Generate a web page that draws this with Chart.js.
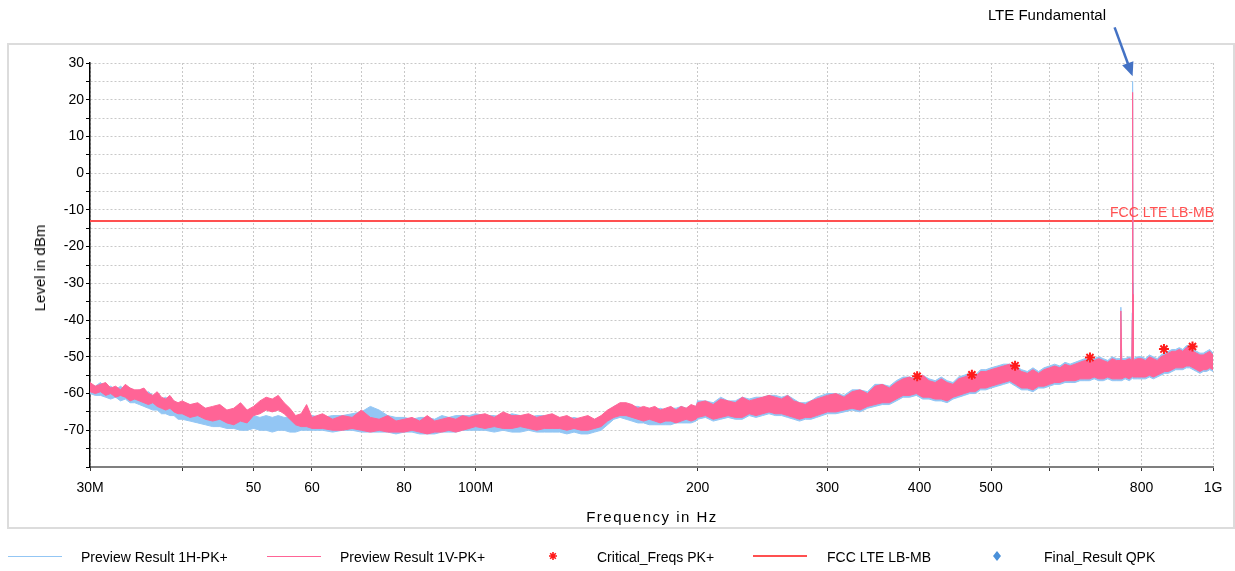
<!DOCTYPE html>
<html lang="en">
<head>
<meta charset="UTF-8">
<title>Radiated Emission Scan</title>
<style>
  body { margin: 0; background: #fff; font-family: 'Liberation Sans', Arial, sans-serif; color: #000; }
  .wrap { position: relative; width: 1235px; height: 571px; overflow: hidden; }
  .frame { position: absolute; left: 7px; top: 43px; width: 1224px; height: 482px; border: 2px solid #dcdcdc; }
  canvas { position: absolute; left: 0; top: 0; }
  .txt { position: absolute; white-space: nowrap; line-height: 16px; font-size: 14px; }
  .ytitle { left: 40px; top: 268px; font-size: 15px; transform: translate(-50%, -50%) rotate(-90deg); }
  .xtitle { left: 652px; top: 509px; font-size: 15px; letter-spacing: 1.5px; transform: translateX(-50%); }
  .limit-label { right: 21px; top: 204px; color: #ff5050; }
  .note { right: 129px; top: 7px; font-size: 15px; }
  .leg-line { position: absolute; width: 54px; height: 0; top: 556px; }
  .leg-mark { position: absolute; top: 551px; }
</style>
</head>
<body>
<div class="wrap">
  <div class="frame"></div>
  <canvas id="scan" width="1235" height="571"></canvas>

  <div class="txt ytitle">Level in dBm</div>
  <div class="txt xtitle">Frequency in Hz</div>
  <div class="txt limit-label">FCC LTE LB-MB</div>
  <div class="txt note">LTE Fundamental</div>

  <div class="leg-line" style="left:8px; border-top:1px solid #93c6f4;"></div>
  <div class="txt" style="left:81px; top:549px;">Preview Result 1H-PK+</div>
  <div class="leg-line" style="left:267px; border-top:1px solid #ff6496;"></div>
  <div class="txt" style="left:340px; top:549px;">Preview Result 1V-PK+</div>
  <svg class="leg-mark" style="left:548px;" width="10" height="10" viewBox="0 0 10 10">
    <path d="M5 1V9M1 5H9M2.2 2.2L7.8 7.8M7.8 2.2L2.2 7.8" stroke="#ff1a1a" stroke-width="1.6"/>
  </svg>
  <div class="txt" style="left:597px; top:549px;">Critical_Freqs PK+</div>
  <div class="leg-line" style="left:753px; border-top:2px solid #ff5050; top:555px;"></div>
  <div class="txt" style="left:827px; top:549px;">FCC LTE LB-MB</div>
  <svg class="leg-mark" style="left:992px;" width="10" height="10" viewBox="0 0 10 10">
    <path d="M5 0L9 5L5 10L1 5Z" fill="#4a90d9"/>
  </svg>
  <div class="txt" style="left:1044px; top:549px;">Final_Result QPK</div>
</div>

<script src="https://cdn.jsdelivr.net/npm/chart.js"></script>
<script>
// frequency points of the preview scans, in MHz
const freqMHz = [
  30, 30.5, 31, 31.5, 32, 32.5, 33, 33.5, 34, 34.5,
  35, 35.5, 36, 36.5, 37, 37.5, 38, 38.5, 39, 39.5,
  40, 41, 42, 43, 44, 45, 46, 47, 48, 49,
  50, 51, 52, 53, 54, 55, 56, 57, 58, 59,
  60, 62, 64, 66, 68, 70, 72, 74, 76, 78,
  80, 82, 84, 86, 88, 90, 92, 94, 96, 98,
  100, 103, 106, 109, 112, 115, 118, 121, 124, 127,
  130, 133, 136, 139, 142, 145, 148, 151, 154, 157,
  160, 163, 166, 169, 172, 175, 178, 181, 184, 187,
  190, 193, 196, 199,
  200, 205, 210, 215, 220, 225, 230, 235, 240, 245,
  250, 255, 260, 265, 270, 275, 280, 285, 290, 295,
  300, 308, 316, 324, 332, 340, 348, 356, 364, 372,
  380, 388, 396, 404, 412, 420, 428, 436, 444, 452,
  460, 468, 476, 484, 492,
  500, 510, 520, 530, 540, 550, 560, 570, 580, 590,
  600, 610, 620, 630, 640, 650, 660, 670, 680, 690,
  700, 710, 720, 730, 740, 748, 750, 752, 760, 770,
  776, 777, 778, 779, 780, 790,
  800, 810, 820, 830, 840, 850, 860, 870, 880, 890,
  900, 910, 920, 930, 940, 950, 960, 970, 980, 990,
  1000
];

// Preview Result 1V-PK+ (dBm): upper and lower edge of the noisy trace
const levelVTop = [
  -57, -58, -57.5, -57, -58.5, -58, -59, -57.5, -58.5, -59,
  -59, -58.5, -60, -60.5, -59.5, -61, -61.5, -60.5, -62, -62.5,
  -62, -63, -62.5, -64, -63.5, -63, -64.5, -64, -62.5, -64.5,
  -63.5, -62, -61, -61.5, -60.5, -62.5, -64, -66, -65.5, -63,
  -66.5, -65.5, -67, -66, -66.5, -64.5, -66.5, -67, -66, -67.5,
  -67, -66.5, -67.5, -66, -67.5, -67, -66.5, -67, -66, -66.5,
  -66, -65.5, -66.5, -65, -66, -66, -65.5, -66.5, -66, -65.5,
  -66.5, -66, -67, -66.5, -66, -67, -66, -64.5, -63.5, -62.5,
  -62.5, -63, -64, -63.5, -64, -63.5, -64.5, -64, -63.5, -64.5,
  -63.5, -64, -63, -63.5,
  -62.5, -62, -63, -61.5, -62, -62.5, -61, -62, -61.5, -61,
  -60.5, -61, -61.5, -60.5, -62, -62.5, -63, -62, -61.5, -61,
  -60.5, -60, -61, -59.5, -59, -60, -58, -57.5, -58.5, -57,
  -56, -55.5, -56.5, -55, -56.5, -57, -56, -57, -57.5, -56,
  -55.5, -55, -55.5, -54, -54,
  -53.5, -53, -52.5, -52, -53, -54, -54.5, -53.5, -54.5, -53.5,
  -53, -52.5, -53, -52, -52.5, -52, -51.5, -51, -51.5, -51,
  -50.5, -51, -51.5, -50.5, -51, -51, -37.5, -51, -51, -50.5,
  -51, -40, 22, -33, -51, -50.5,
  -50.5, -51, -50, -50.5, -51, -50, -49.5, -49, -48.5, -48.5,
  -48, -48.5, -47.5, -47.5, -48.5, -49, -49.5, -49.5, -49, -48.5,
  -49.5
];
const levelVBottom = [
  -59.5, -60, -59.5, -60.5, -60, -61, -60.5, -61, -62, -61.5,
  -62, -62.5, -63, -62.5, -63.5, -64, -64.5, -64, -65, -65.5,
  -65.5, -66.5, -66, -67, -67.5, -67, -68, -68.5, -67.5, -68,
  -66, -65.5, -64.5, -65, -64.5, -65.5, -67, -68.5, -69, -69,
  -69.5, -69.5, -70, -70, -69.5, -70, -70.5, -70, -70.5, -70.5,
  -70.5, -70, -70.5, -71, -70.5, -70.5, -70, -70.5, -70, -69.5,
  -69, -69.5, -69, -69.5, -69.5, -69, -69.5, -70, -69.5, -69.5,
  -69.5, -70, -69.5, -70, -70, -69.5, -69, -67.5, -66.5, -66,
  -66, -66.5, -67, -67.5, -67, -67.5, -68, -67.5, -67.5, -68,
  -67.5, -67, -67.5, -67,
  -66.5, -66, -67, -66.5, -66, -66.5, -66.5, -65.5, -66, -65.5,
  -65, -65.5, -65.5, -66, -66.5, -67, -66.5, -66.5, -66, -65.5,
  -65, -65, -64.5, -64, -64.5, -63.5, -63, -62.5, -62.5, -61.5,
  -60.5, -60.5, -60, -61, -61, -61.5, -61.5, -62, -61, -60.5,
  -60, -59.5, -59.5, -58.5, -58.5,
  -58, -57.5, -57, -56.5, -57.5, -58.5, -58.5, -59, -58, -58,
  -57.5, -57, -57, -56.5, -56.5, -56.5, -56, -56, -56, -55.5,
  -56, -56, -55.5, -56, -56, -56, -56, -56, -55.5, -56,
  -55.5, -55, -55, -55.5, -55.5, -55.5,
  -55.5, -55.5, -55, -55.5, -55, -54.5, -54, -54, -53.5, -53,
  -53, -53, -52.5, -52.5, -53, -53.5, -54, -53.5, -53.5, -53,
  -53.5
];

// Preview Result 1H-PK+ (dBm): upper and lower edge of the noisy trace
const levelHTop = [
  -57.5, -58, -57, -58.5, -58, -59, -58, -59, -58.5, -59.5,
  -59, -60, -59.5, -60.5, -60.5, -61.5, -61, -62, -62, -63,
  -62.5, -63, -63.5, -64, -64.5, -65, -65.5, -66, -65.5, -66,
  -66, -66.5, -66, -66.5, -66, -66.5, -66.5, -67, -66.5, -66.5,
  -66, -66.5, -66, -66, -65.5, -65, -63.5, -64.5, -66, -66.5,
  -66.5, -67, -66.5, -66.5, -67, -66, -66.5, -66, -66, -66,
  -65.5, -66, -66, -66.5, -65.5, -66, -66.5, -66, -66, -66.5,
  -66.5, -67, -66.5, -67, -67, -67, -66.5, -65, -63.5, -63,
  -63, -63.5, -63.5, -64, -64, -64.5, -64, -64.5, -64, -64,
  -63.5, -64, -63.5, -63.5,
  -62, -62, -62.5, -61, -62, -62, -61, -61.5, -61, -61,
  -60.5, -60.5, -61, -60.5, -61.5, -62.5, -62.5, -62, -61, -60.5,
  -60, -60, -60.5, -59, -59, -59.5, -57.5, -57.5, -58, -56.5,
  -55.5, -55.5, -56, -55, -56, -56.5, -55.5, -56.5, -57, -55.5,
  -55, -54.5, -55, -53.5, -53.5,
  -53, -52.5, -52, -52, -52.5, -53.5, -54, -53, -54, -53,
  -52.5, -52, -52.5, -51.5, -52, -51.5, -51, -50.5, -51, -50.5,
  -50, -50.5, -51, -50, -50.5, -50.5, -36.5, -50.5, -50.5, -50,
  -50.5, -38, 25, -30, -50.5, -50,
  -50, -50.5, -49.5, -50, -50.5, -49.5, -49, -48.5, -48, -48,
  -47.5, -48, -47, -47, -48, -48.5, -49, -49, -48.5, -48,
  -49
];
const levelHBottom = [
  -60, -60.5, -60.5, -61, -61.5, -61, -62, -61.5, -62.5, -62.5,
  -63, -63.5, -64, -64.5, -64.5, -65.5, -65.5, -66, -66, -67,
  -67, -67.5, -68, -68.5, -69, -69, -69.5, -69.5, -70, -70,
  -69.5, -70, -70, -70.5, -70, -70, -70.5, -70.5, -70, -70,
  -70, -70, -70.5, -70, -70, -70.5, -70.5, -70.5, -70.5, -71,
  -70.5, -70.5, -71, -71, -71, -70.5, -70.5, -70.5, -70, -70,
  -70, -70, -70.5, -70, -70.5, -70.5, -70, -70.5, -70.5, -70.5,
  -70.5, -71, -70.5, -71, -71, -70.5, -70, -68.5, -67, -66.5,
  -67, -67.5, -68, -68, -68.5, -68.5, -68.5, -68.5, -68.5, -68,
  -68, -68, -68, -67.5,
  -67, -66.5, -67.5, -67, -66.5, -67, -67, -66, -66.5, -66,
  -65.5, -66, -66, -66.5, -67, -67.5, -67, -67, -66.5, -66,
  -65.5, -65.5, -65, -64.5, -65, -64, -63.5, -63, -63, -62,
  -61, -61, -60.5, -61.5, -61.5, -62, -62, -62.5, -61.5, -61,
  -60.5, -60, -60, -59, -59,
  -58.5, -58, -57.5, -57, -58, -59, -59, -59.5, -58.5, -58.5,
  -58, -57.5, -57.5, -57, -57, -57, -56.5, -56.5, -56.5, -56,
  -56.5, -56.5, -56, -56.5, -56.5, -56.5, -56.5, -56.5, -56, -56.5,
  -56, -55.5, -55.5, -56, -56, -56,
  -56, -56, -55.5, -56, -55.5, -55, -54.5, -54.5, -54, -53.5,
  -53.5, -53.5, -53, -53, -53.5, -54, -54.5, -54, -54, -53.5,
  -54
];

// Critical_Freqs PK+
const critFreqMHz = [397, 471, 539, 681, 858, 938];
const critLevel = [-55.3, -54.9, -52.4, -50.2, -47.9, -47.2];

// FCC LTE LB-MB limit
const limitFreqMHz = [30, 1000];
const limitLevel = [-13, -13];

// Final_Result QPK (no measured points)
const finalFreqMHz = [];
const finalLevel = [];

// the LTE fundamental carrier the arrow points at
const fundamentalMHz = 778;
const fundamentalLevel = 25;

const xTickMHz = [30, 40, 50, 60, 70, 80, 100, 200, 300, 400, 500, 600, 700, 800, 1000];
const xTickLabels = ['30M', '', '50', '60', '', '80', '100M', '200', '300', '400', '500', '', '', '800', '1G'];

const pink = '#ff6496';
const lightBlue = '#93c6f4';

const toPoints = (xs, ys) => xs.map((f, i) => ({ x: f, y: ys[i] }));

const arrowPlugin = {
  id: 'fundamentalArrow',
  afterDraw(chart) {
    const { ctx, scales: { x, y } } = chart;
    const tipX = x.getPixelForValue(fundamentalMHz);
    const tipY = y.getPixelForValue(fundamentalLevel) - 5;
    const sx = tipX - 18, sy = tipY - 49;
    const ang = Math.atan2(tipY - sy, tipX - sx);
    ctx.save();
    ctx.strokeStyle = '#4472c4';
    ctx.fillStyle = '#4472c4';
    ctx.lineWidth = 2.5;
    ctx.beginPath();
    ctx.moveTo(sx, sy);
    ctx.lineTo(tipX - 10 * Math.cos(ang), tipY - 10 * Math.sin(ang));
    ctx.stroke();
    ctx.beginPath();
    ctx.moveTo(tipX, tipY);
    ctx.lineTo(tipX - 14 * Math.cos(ang) + 6 * Math.sin(ang), tipY - 14 * Math.sin(ang) - 6 * Math.cos(ang));
    ctx.lineTo(tipX - 14 * Math.cos(ang) - 6 * Math.sin(ang), tipY - 14 * Math.sin(ang) + 6 * Math.cos(ang));
    ctx.closePath();
    ctx.fill();
    ctx.restore();
  }
};

Chart.defaults.font.family = "'Liberation Sans', Arial, sans-serif";
Chart.defaults.font.size = 14;
Chart.defaults.color = '#000';

new Chart(document.getElementById('scan'), {
  type: 'line',
  data: {
    datasets: [
      {
        label: 'Critical_Freqs PK+',
        data: toPoints(critFreqMHz, critLevel),
        showLine: false,
        pointStyle: 'star',
        pointRadius: 5,
        borderColor: '#ff1a1a',
        borderWidth: 2,
        order: 0
      },
      {
        label: 'Final_Result QPK',
        data: toPoints(finalFreqMHz, finalLevel),
        showLine: false,
        pointStyle: 'rectRot',
        pointRadius: 4,
        backgroundColor: '#4a90d9',
        borderColor: '#4a90d9',
        order: 1
      },
      {
        label: 'Preview Result 1V-PK+',
        data: toPoints(freqMHz, levelVTop),
        borderColor: pink,
        borderWidth: 1,
        pointRadius: 0,
        order: 2
      },
      {
        label: 'Preview Result 1V-PK+ (lower)',
        data: toPoints(freqMHz, levelVBottom),
        borderColor: pink,
        backgroundColor: pink,
        borderWidth: 1,
        pointRadius: 0,
        fill: '-1',
        order: 2
      },
      {
        label: 'Preview Result 1H-PK+',
        data: toPoints(freqMHz, levelHTop),
        borderColor: lightBlue,
        borderWidth: 1,
        pointRadius: 0,
        order: 3
      },
      {
        label: 'Preview Result 1H-PK+ (lower)',
        data: toPoints(freqMHz, levelHBottom),
        borderColor: lightBlue,
        backgroundColor: lightBlue,
        borderWidth: 1,
        pointRadius: 0,
        fill: '-1',
        order: 3
      },
      {
        label: 'FCC LTE LB-MB',
        data: toPoints(limitFreqMHz, limitLevel),
        borderColor: '#ff5050',
        borderWidth: 2,
        pointRadius: 0,
        order: 4
      }
    ]
  },
  options: {
    responsive: false,
    animation: false,
    layout: { padding: { left: 0, top: 63, right: 22, bottom: 0 } },
    plugins: { legend: { display: false }, tooltip: { enabled: false } },
    scales: {
      x: {
        type: 'logarithmic',
        min: 30,
        max: 1000,
        afterBuildTicks: s => { s.ticks = xTickMHz.map(v => ({ value: v })); },
        afterFit: s => { s.height = 104; },
        ticks: {
          autoSkip: false,
          maxRotation: 0,
          padding: 9,
          callback: (v, i) => xTickLabels[i]
        },
        grid: { color: '#c8c8c8', lineWidth: 1, tickColor: '#333', tickLength: 4 },
        border: { color: '#7f7f7f', width: 2, dash: [2, 2] }
      },
      y: {
        min: -80,
        max: 30,
        afterFit: s => { s.width = 90; },
        ticks: {
          stepSize: 5,
          autoSkip: false,
          padding: 2,
          callback: v => (v % 10 === 0 && v > -80) ? v : ''
        },
        grid: { color: '#c8c8c8', lineWidth: 1, tickColor: '#000', tickLength: 4 },
        border: { color: '#000', width: 1.5, dash: [2, 2] }
      }
    }
  },
  plugins: [arrowPlugin]
});
</script>
</body>
</html>
